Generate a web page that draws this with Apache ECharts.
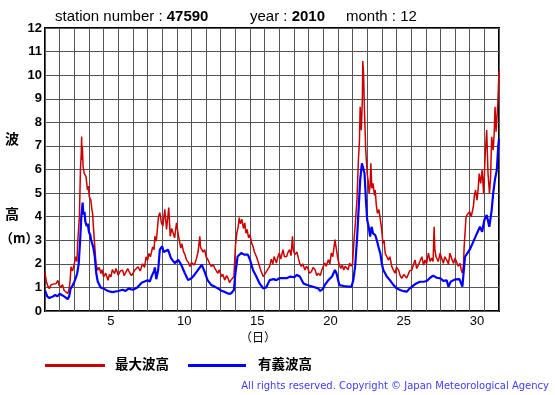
<!DOCTYPE html>
<html><head><meta charset="utf-8">
<script src="https://cdn.jsdelivr.net/npm/echarts@6/dist/echarts.min.js"></script>
<style>html,body{margin:0;padding:0;background:#fff}#c{width:555px;height:395px}</style>
</head><body><div id="c"></div>
<script>
// time in days from Dec 1 00:00, value in metres
var maxWave = [[0,1.66],[0.05,1.4],[0.1,1.23],[0.2,1.05],[0.3,0.95],[0.4,1.1],[0.5,1.02],[0.6,1.15],[0.75,1.16],[0.88,1.3],[0.95,1.1],[1.1,1.02],[1.2,1.12],[1.3,0.88],[1.42,0.95],[1.55,0.74],[1.65,0.95],[1.72,1.3],[1.77,1.87],[1.88,1.7],[2.0,2.0],[2.1,2.3],[2.18,2.1],[2.23,2.87],[2.35,4.0],[2.42,6.0],[2.47,6.6],[2.5,7.4],[2.53,6.4],[2.55,6.98],[2.6,6.13],[2.68,5.84],[2.8,5.7],[2.9,5.13],[2.96,5.3],[3.02,4.85],[3.13,4.7],[3.2,4.3],[3.25,4.14],[3.32,3.43],[3.4,2.72],[3.48,2.0],[3.6,1.73],[3.7,1.85],[3.82,1.59],[3.9,1.75],[4.0,1.45],[4.15,1.6],[4.3,1.3],[4.4,1.55],[4.5,1.45],[4.6,1.75],[4.75,1.59],[4.85,1.8],[5.0,1.52],[5.15,1.7],[5.3,1.73],[5.4,1.5],[5.52,1.52],[5.65,1.8],[5.75,1.66],[5.9,1.5],[6.0,1.59],[6.15,1.75],[6.35,1.87],[6.5,1.7],[6.66,2.0],[6.8,1.85],[6.9,2.3],[7.0,2.15],[7.1,2.44],[7.2,2.3],[7.35,2.72],[7.45,2.6],[7.5,3.17],[7.6,2.96],[7.75,4.0],[7.84,4.17],[7.95,3.74],[8.05,3.6],[8.18,4.31],[8.3,3.46],[8.45,4.39],[8.55,3.17],[8.65,3.5],[8.75,3.31],[8.85,3.1],[8.98,3.74],[9.1,3.24],[9.2,2.9],[9.27,2.67],[9.35,2.85],[9.45,2.53],[9.55,2.4],[9.66,2.17],[9.8,2.05],[9.9,1.89],[10.0,2.05],[10.1,2.1],[10.2,1.95],[10.35,2.24],[10.45,2.5],[10.57,3.17],[10.62,2.7],[10.7,2.74],[10.8,2.5],[10.9,2.6],[11.0,2.3],[11.13,2.17],[11.25,2.0],[11.36,1.89],[11.5,1.95],[11.6,1.81],[11.7,1.7],[11.8,1.6],[11.9,1.75],[12.05,1.46],[12.15,1.55],[12.27,1.31],[12.4,1.5],[12.5,1.39],[12.6,1.2],[12.7,1.31],[12.8,1.25],[12.9,1.46],[13.0,2.74],[13.1,3.31],[13.2,3.6],[13.26,3.96],[13.35,3.7],[13.45,3.89],[13.55,3.5],[13.64,3.74],[13.72,3.3],[13.8,3.46],[13.9,3.1],[14.0,3.24],[14.1,2.9],[14.2,2.74],[14.3,2.5],[14.43,2.31],[14.55,2.1],[14.65,1.89],[14.75,1.7],[14.9,1.46],[15.0,1.55],[15.1,1.6],[15.2,1.75],[15.34,1.89],[15.45,2.2],[15.55,2.0],[15.65,2.31],[15.8,2.03],[15.9,2.3],[16.0,2.46],[16.1,2.2],[16.25,2.6],[16.35,2.3],[16.5,2.31],[16.6,2.5],[16.7,2.6],[16.8,2.35],[16.9,3.17],[16.95,2.6],[17.07,2.39],[17.2,2.5],[17.3,2.24],[17.4,2.0],[17.5,1.89],[17.6,2.0],[17.75,1.74],[17.85,1.9],[17.95,1.81],[18.05,1.6],[18.2,1.67],[18.3,1.85],[18.45,1.74],[18.55,1.5],[18.66,1.6],[18.8,1.5],[18.9,1.74],[19.0,1.8],[19.1,2.03],[19.2,1.9],[19.35,2.17],[19.45,2.0],[19.55,2.46],[19.65,2.3],[19.8,3.03],[19.9,2.6],[20.0,2.2],[20.1,1.96],[20.2,1.8],[20.3,1.95],[20.4,1.74],[20.5,1.9],[20.6,1.96],[20.7,1.75],[20.8,2.03],[20.9,1.9],[21.0,2.0],[21.1,3.0],[21.2,3.8],[21.3,4.7],[21.4,6.4],[21.47,7.2],[21.52,8.66],[21.6,7.67],[21.67,9.0],[21.7,10.6],[21.75,10.07],[21.82,8.38],[21.9,6.82],[22.0,5.83],[22.07,5.5],[22.13,4.98],[22.2,5.3],[22.25,6.26],[22.32,5.2],[22.4,5.41],[22.5,4.9],[22.55,5.13],[22.62,4.5],[22.7,4.14],[22.8,4.3],[22.9,3.86],[23.0,3.4],[23.07,2.87],[23.15,3.0],[23.23,2.45],[23.35,2.5],[23.45,2.16],[23.55,2.3],[23.68,1.88],[23.8,1.95],[23.9,1.6],[24.0,1.85],[24.14,1.74],[24.25,1.5],[24.36,1.38],[24.5,1.55],[24.6,1.6],[24.7,1.4],[24.8,1.46],[24.9,1.7],[25.05,1.74],[25.15,1.95],[25.27,2.16],[25.38,1.8],[25.5,1.88],[25.6,2.1],[25.73,2.3],[25.85,1.95],[25.95,2.16],[26.05,2.0],[26.18,2.45],[26.3,2.1],[26.4,2.24],[26.5,2.1],[26.57,3.57],[26.62,2.6],[26.7,2.3],[26.85,2.1],[26.98,2.45],[27.1,2.2],[27.2,2.02],[27.3,2.3],[27.43,2.16],[27.55,2.0],[27.65,2.45],[27.78,2.2],[27.9,2.02],[28.0,2.25],[28.1,2.3],[28.22,1.9],[28.34,2.02],[28.42,1.75],[28.5,1.6],[28.58,2.0],[28.62,2.72],[28.7,3.5],[28.75,4.0],[28.85,4.1],[29.0,4.21],[29.1,4.0],[29.25,4.42],[29.32,4.9],[29.4,5.13],[29.5,4.7],[29.58,5.2],[29.65,5.83],[29.75,5.41],[29.85,5.97],[29.95,4.98],[30.05,6.54],[30.16,7.67],[30.25,5.83],[30.35,4.98],[30.42,5.6],[30.5,7.39],[30.6,6.82],[30.67,7.5],[30.73,8.66],[30.8,7.6],[30.85,8.09],[30.92,8.8],[31.0,10.2]];

var sigWave = [[0,0.88],[0.15,0.62],[0.3,0.55],[0.5,0.6],[0.7,0.68],[0.85,0.62],[1.0,0.73],[1.2,0.66],[1.4,0.58],[1.55,0.5],[1.65,0.62],[1.75,0.95],[1.9,1.1],[2.0,1.23],[2.1,1.4],[2.2,1.6],[2.3,2.0],[2.4,3.0],[2.48,4.0],[2.57,4.6],[2.62,4.1],[2.7,4.2],[2.75,3.8],[2.85,3.6],[2.92,3.7],[3.0,3.35],[3.1,3.2],[3.15,3.0],[3.3,2.7],[3.4,2.3],[3.5,1.6],[3.6,1.25],[3.8,1.0],[4.0,0.95],[4.3,0.85],[4.6,0.8],[5.0,0.85],[5.3,0.9],[5.5,0.85],[5.7,0.95],[6.0,0.9],[6.3,1.0],[6.6,1.2],[7.0,1.3],[7.15,1.25],[7.3,1.5],[7.45,1.7],[7.5,1.85],[7.6,1.35],[7.73,1.75],[7.84,2.6],[8.0,2.74],[8.1,2.5],[8.2,2.46],[8.4,2.6],[8.6,2.24],[8.86,2.03],[9.1,2.17],[9.3,1.96],[9.55,1.6],[9.77,1.31],[10.0,1.39],[10.2,1.53],[10.45,1.74],[10.7,1.96],[10.9,1.67],[11.1,1.31],[11.36,1.1],[11.6,1.03],[11.8,0.96],[12.05,0.86],[12.27,0.81],[12.5,0.74],[12.7,0.74],[12.9,0.89],[13.0,1.6],[13.15,2.31],[13.4,2.46],[13.6,2.39],[13.85,2.39],[14.0,2.17],[14.2,1.74],[14.43,1.46],[14.65,1.17],[14.9,0.96],[15.1,1.0],[15.34,1.31],[15.6,1.35],[15.8,1.31],[16.0,1.39],[16.3,1.39],[16.5,1.39],[16.75,1.46],[17.0,1.43],[17.2,1.53],[17.4,1.46],[17.65,1.17],[17.9,1.1],[18.0,1.06],[18.3,1.03],[18.65,0.96],[18.8,0.85],[19.0,0.96],[19.1,1.1],[19.35,1.31],[19.6,1.46],[19.8,1.74],[19.9,1.6],[20.1,1.1],[20.4,1.06],[20.7,1.03],[20.93,1.03],[21.05,1.31],[21.18,1.9],[21.3,3.0],[21.4,4.14],[21.52,5.55],[21.64,6.26],[21.75,6.33],[21.82,5.83],[21.9,4.85],[22.0,3.86],[22.1,3.57],[22.2,3.16],[22.3,3.57],[22.4,3.29],[22.55,3.22],[22.66,3.0],[22.77,2.72],[22.9,2.43],[23.0,2.0],[23.1,1.74],[23.34,1.46],[23.55,1.31],[23.8,1.1],[24.0,0.96],[24.25,0.89],[24.5,0.84],[24.7,0.82],[24.9,0.96],[25.1,1.05],[25.35,1.17],[25.6,1.24],[25.85,1.24],[26.07,1.27],[26.3,1.41],[26.5,1.5],[26.75,1.41],[27.0,1.38],[27.2,1.28],[27.43,1.3],[27.55,1.03],[27.7,1.24],[28.0,1.34],[28.3,1.35],[28.5,1.03],[28.6,1.1],[28.68,2.3],[29.0,2.6],[29.25,2.94],[29.5,3.3],[29.7,3.57],[29.85,3.36],[30.0,3.86],[30.16,4.07],[30.34,3.57],[30.5,4.28],[30.6,4.98],[30.73,5.6],[30.85,5.97],[30.95,7.0],[31.0,7.3]];

var dayLabels = ['1','2','3','4','5','6','7','8','9','10','11','12','13','14','15','16','17','18','19','20','21','22','23','24','25','26','27','28','29','30','31'];
var seriesNames = ['最大波高','有義波高'];
var seriesColors = ['#cc0000','#0000ff'];

var chart = echarts.init(document.getElementById('c'), null, {renderer:'canvas'});
var gx = 45, gy = 28, gw = 454, gh = 283;
var T = {fontFamily:'Liberation Sans', fontSize:15, fill:'#000'};
var TB = {fontFamily:'Liberation Sans', fontSize:15, fontWeight:'bold', fill:'#000'};
chart.setOption({
  animation:false,
  backgroundColor:'#fff',
  grid:{left:gx, top:gy, width:gw, height:gh, show:true, borderColor:'#000', borderWidth:2, backgroundColor:'transparent'},
  xAxis:[{
    type:'value', min:0, max:31, interval:1,
    axisLine:{show:false}, axisTick:{show:false}, axisLabel:{show:false},
    splitLine:{show:true, lineStyle:{color:'#555', width:1}}
  },{
    type:'category', data:dayLabels, boundaryGap:true, position:'bottom',
    axisLine:{show:false}, axisTick:{show:false}, splitLine:{show:false},
    axisLabel:{interval:function(i){return (i+1)%5===0;}, fontFamily:'Liberation Sans', fontSize:13, color:'#000', margin:4}
  }],
  yAxis:{
    type:'value', min:0, max:12, interval:1,
    axisLine:{show:false}, axisTick:{show:false},
    axisLabel:{fontFamily:'Liberation Sans', fontWeight:'bold', fontSize:13, color:'#000', margin:3},
    splitLine:{show:true, lineStyle:{color:'#555', width:1}}
  },
  series:[{
    name:seriesNames[0], type:'line', xAxisIndex:0, data:maxWave, showSymbol:false,
    lineStyle:{color:seriesColors[0], width:1.5}, z:2
  },{
    name:seriesNames[1], type:'line', xAxisIndex:0, data:sigWave, showSymbol:false,
    lineStyle:{color:seriesColors[1], width:2.2}, z:3
  }],
  graphic:[
    {type:'text', left:55, top:9, style:{text:'{n|station number : }{b|47590}', rich:{n:T, b:TB}}},
    {type:'text', left:250, top:9, style:{text:'{n|year : }{b|2010}', rich:{n:T, b:TB}}},
    {type:'text', left:346, top:9, style:{text:'month : 12', font:'15px "Liberation Sans"', fill:'#000'}},
    {type:'text', left:5, top:132, style:{text:'波', font:'bold 14px "Noto Sans CJK JP"', fill:'#000'}},
    {type:'text', left:5, top:207, style:{text:'高', font:'bold 14px "Noto Sans CJK JP"', fill:'#000'}},
    {type:'text', left:0, top:232, style:{text:'（m）', font:'bold 13px "Noto Sans CJK JP"', fill:'#000'}},
    {type:'text', left:240, top:331, style:{text:'（日）', font:'12px "Noto Sans CJK JP"', fill:'#000'}},
    {type:'rect', shape:{x:45, y:364, width:60, height:3}, style:{fill:seriesColors[0]}},
    {type:'text', left:115, top:357, style:{text:seriesNames[0], font:'bold 13.5px "Noto Sans CJK JP"', fill:'#000'}},
    {type:'rect', shape:{x:188, y:364, width:58, height:3}, style:{fill:seriesColors[1]}},
    {type:'text', left:258, top:357, style:{text:seriesNames[1], font:'bold 13.5px "Noto Sans CJK JP"', fill:'#000'}},
    {type:'text', right:6, top:381, style:{text:'All rights reserved. Copyright © Japan Meteorological Agency', font:'10px "DejaVu Sans"', fill:'#3c3cff'}}
  ]
});
</script></body></html>
